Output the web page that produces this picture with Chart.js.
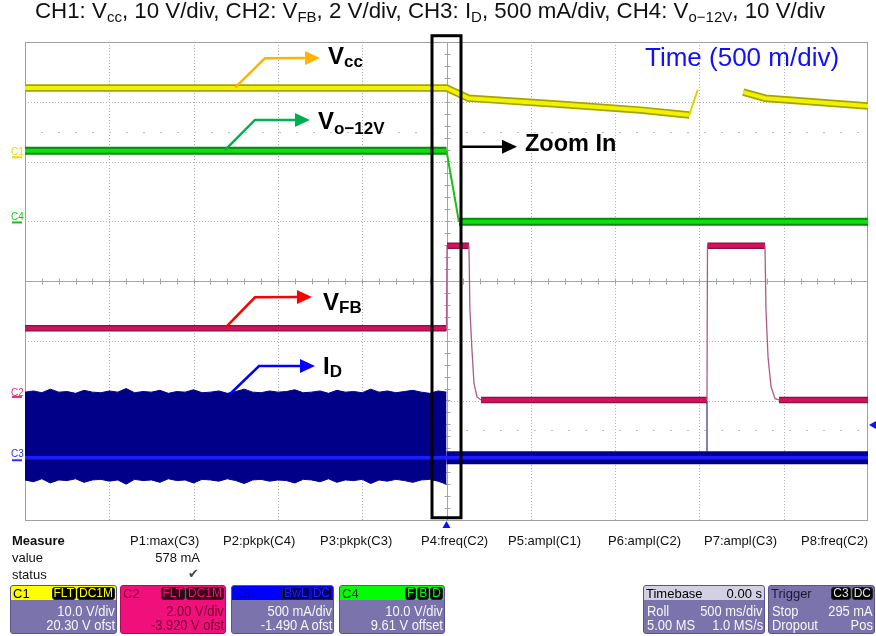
<!DOCTYPE html>
<html>
<head>
<meta charset="utf-8">
<script src="https://cdn.jsdelivr.net/npm/chart.js@4.4.1/dist/chart.umd.min.js"></script>
<style>
  body { margin: 0; background: #fff; font-family: "Liberation Sans", Arial, sans-serif; }
  #wrap { position: relative; width: 876px; height: 636px; overflow: hidden; }
  #scope { position: absolute; left: 0; top: 0; }
  .t { position: absolute; line-height: 1; white-space: nowrap; }
  .lbl { font-weight: bold; font-size: 24px; color: #000; }
  .lbl sub { font-size: 17px; vertical-align: -3px; line-height: 0; }
  #title { left: 35px; top: 0; font-size: 22.3px; color: #111; }
  #title sub { font-size: 15px; vertical-align: -4px; line-height: 0; }
  .m { font-size: 13px; color: #111; }
  .chn { font-size: 10px; }
  .ch { position: absolute; top: 585px; height: 49px; box-sizing: border-box; border: 1px solid #5a5488;
        border-radius: 3px; background: #7b73ab; overflow: hidden; }
  .hd { height: 14px; display: flex; align-items: center; font-size: 13px; padding-left: 2px; }
  .hd .nm { flex: 1; }
  .bd { background: #000; border-radius: 3px; padding: 0 1px; margin-right: 1px; font-size: 12px; line-height: 11px;
        border: 1px solid #222; }
  .row { position: absolute; right: 1px; font-size: 15px; line-height: 1; color: #f6f6f6;
         transform: scaleX(0.86); transform-origin: right center; white-space: nowrap; }
  .rowl { position: absolute; left: 3px; font-size: 15px; line-height: 1; color: #f6f6f6;
          transform: scaleX(0.86); transform-origin: left center; white-space: nowrap; }
</style>
</head>
<body>
<div id="wrap">
  <canvas id="scope" width="876" height="636"></canvas>

  <div id="title" class="t">CH1: V<sub>cc</sub>, 10 V/div, CH2: V<sub>FB</sub>, 2 V/div, CH3: I<sub>D</sub>, 500 mA/div, CH4: V<sub>o−12V</sub>, 10 V/div</div>
  <div class="t" style="left:645px;top:44px;font-size:26px;color:#1010ff;">Time (500 m/div)</div>
  <div class="t" style="left:525px;top:132px;font-size:23.5px;font-weight:bold;">Zoom In</div>

  <div class="t lbl" style="left:328px;top:44px;">V<sub>cc</sub></div>
  <div class="t lbl" style="left:318px;top:109px;">V<sub style="vertical-align:-5px;">o−12V</sub></div>
  <div class="t lbl" style="left:323px;top:290px;">V<sub>FB</sub></div>
  <div class="t lbl" style="left:323px;top:354px;">I<sub>D</sub></div>

  <div class="t chn" style="left:11px;top:147px;color:#e0e000;">C1</div>
  <div class="t chn" style="left:11px;top:212px;color:#10c810;">C4</div>
  <div class="t chn" style="left:11px;top:388px;color:#e0307c;">C2</div>
  <div class="t chn" style="left:11px;top:449px;color:#3030ff;">C3</div>

  <div class="t m" style="left:12px;top:534px;font-weight:bold;">Measure</div>
  <div class="t m" style="left:12px;top:551px;">value</div>
  <div class="t m" style="left:12px;top:568px;">status</div>
  <div class="t m" style="left:130px;top:534px;">P1:max(C3)</div>
  <div class="t m" style="left:223px;top:534px;">P2:pkpk(C4)</div>
  <div class="t m" style="left:320px;top:534px;">P3:pkpk(C3)</div>
  <div class="t m" style="left:421px;top:534px;">P4:freq(C2)</div>
  <div class="t m" style="left:508px;top:534px;">P5:ampl(C1)</div>
  <div class="t m" style="left:608px;top:534px;">P6:ampl(C2)</div>
  <div class="t m" style="left:704px;top:534px;">P7:ampl(C3)</div>
  <div class="t m" style="left:801px;top:534px;">P8:freq(C2)</div>
  <div class="t m" style="right:676px;top:551px;">578 mA</div>
  <div class="t m" style="left:188px;top:567px;color:#444;font-family:'DejaVu Sans',sans-serif;">✔</div>

  <div class="ch" style="left:10px;width:107px;">
    <div class="hd" style="background:#ffff00;color:#000;"><span class="nm">C1</span><span class="bd" style="color:#ffff00;">FLT</span><span class="bd" style="color:#ffff00;">DC1M</span></div>
    <div class="row" style="top:17px;">10.0 V/div</div>
    <div class="row" style="top:31px;">20.30 V ofst</div>
  </div>
  <div class="ch" style="left:120px;width:106px;background:#f0107c;border-color:#b00a5a;">
    <div class="hd" style="background:#f0107c;color:#9a0040;"><span class="nm">C2</span><span class="bd" style="color:#f0107c;background:#3a0018;">FLT</span><span class="bd" style="color:#f0107c;background:#3a0018;">DC1M</span></div>
    <div class="row" style="top:17px;color:#7a0030;">2.00 V/div</div>
    <div class="row" style="top:31px;color:#7a0030;">-3.920 V ofst</div>
  </div>
  <div class="ch" style="left:231px;width:103px;">
    <div class="hd" style="background:#0000ff;color:#000090;"><span class="nm">C3</span><span class="bd" style="color:#2020ff;background:#000060;">BwL</span><span class="bd" style="color:#2020ff;background:#000060;">DC</span></div>
    <div class="row" style="top:17px;">500 mA/div</div>
    <div class="row" style="top:31px;">-1.490 A ofst</div>
  </div>
  <div class="ch" style="left:339px;width:106px;">
    <div class="hd" style="background:#00ff00;color:#003000;"><span class="nm">C4</span><span class="bd" style="color:#00ff00;">F</span><span class="bd" style="color:#00ff00;">B</span><span class="bd" style="color:#00ff00;">D</span></div>
    <div class="row" style="top:17px;">10.0 V/div</div>
    <div class="row" style="top:31px;">9.61 V offset</div>
  </div>
  <div class="ch" style="left:643px;width:122px;">
    <div class="hd" style="background:#d4d0e4;color:#000;padding-right:2px;"><span class="nm">Timebase</span><span>0.00 s</span></div>
    <div class="rowl" style="top:17px;">Roll</div>
    <div class="row" style="top:17px;">500 ms/div</div>
    <div class="rowl" style="top:31px;">5.00 MS</div>
    <div class="row" style="top:31px;">1.0 MS/s</div>
  </div>
  <div class="ch" style="left:768px;width:107px;">
    <div class="hd" style="color:#1a1838;"><span class="nm">Trigger</span><span class="bd" style="color:#e0e0e0;">C3</span><span class="bd" style="color:#e0e0e0;">DC</span></div>
    <div class="rowl" style="top:17px;">Stop</div>
    <div class="row" style="top:17px;">295 mA</div>
    <div class="rowl" style="top:31px;">Dropout</div>
    <div class="row" style="top:31px;">Pos</div>
  </div>
</div>

<script>
// time in seconds (500 ms/div, trigger at 0), levels in screen divisions (+-4)
const vccT = [-2.5, 0.0, 0.13, 0.67, 1.15, 1.44, 1.49, 1.6, 1.76, 1.89, 2.5];
const vccV = [3.23, 3.23, 3.06, 2.96, 2.86, 2.78, 3.20, null, 3.16, 3.06, 2.93];

const voT = [-2.5, 0.0, 0.074, 2.5];
const voV = [2.18, 2.18, 0.99, 0.99];

const fbT = [-2.5, 0.0, 0.003, 0.133, 0.139, 0.151, 0.163, 0.181, 0.205, 1.545, 1.548, 1.889, 1.895, 1.907, 1.925, 1.949, 1.972, 2.5];
const fbV = [-0.79, -0.79, 0.59, 0.59, -0.49, -1.15, -1.71, -1.94, -1.99, -1.99, 0.59, 0.59, -0.49, -1.27, -1.77, -1.97, -1.99, -1.99];

// switching current envelope before the trigger
const idBandT = [-2.5, -2.45, -2.4, -2.35, -2.3, -2.25, -2.2, -2.15, -2.1, -2.05,
                 -2.0, -1.95, -1.9, -1.85, -1.8, -1.75, -1.7, -1.65, -1.6, -1.55,
                 -1.5, -1.45, -1.4, -1.35, -1.3, -1.25, -1.2, -1.15, -1.1, -1.05,
                 -1.0, -0.95, -0.9, -0.85, -0.8, -0.75, -0.7, -0.65, -0.6, -0.55,
                 -0.5, -0.45, -0.4, -0.35, -0.3, -0.25, -0.2, -0.15, -0.1, -0.05, 0.0];
const idTopV = [-1.86, -1.84, -1.87, -1.81, -1.86, -1.85, -1.88, -1.83, -1.86, -1.87,
                -1.84, -1.86, -1.80, -1.87, -1.85, -1.86, -1.83, -1.88, -1.85, -1.86,
                -1.82, -1.87, -1.86, -1.84, -1.88, -1.85, -1.81, -1.86, -1.87, -1.84,
                -1.86, -1.85, -1.82, -1.87, -1.86, -1.84, -1.88, -1.83, -1.86, -1.85,
                -1.87, -1.81, -1.86, -1.84, -1.87, -1.85, -1.83, -1.86, -1.88, -1.84, -1.86];
const idBotV = [-3.33, -3.36, -3.31, -3.38, -3.33, -3.34, -3.31, -3.37, -3.33, -3.32,
                -3.35, -3.33, -3.40, -3.32, -3.34, -3.33, -3.37, -3.31, -3.34, -3.33,
                -3.38, -3.32, -3.33, -3.35, -3.31, -3.34, -3.39, -3.33, -3.32, -3.35,
                -3.33, -3.34, -3.38, -3.32, -3.33, -3.36, -3.31, -3.37, -3.33, -3.34,
                -3.32, -3.39, -3.33, -3.35, -3.32, -3.34, -3.37, -3.33, -3.32, -3.35, -3.40];
const idMidT = [-2.5, 2.5];
const idMidV = [-2.96, -2.96];
const idPostT = [0.0, 2.5];
const idPostV = [-2.96, -2.96];
const idSpikeT = [1.545, 1.545];
const idSpikeV = [-2.85, -2.0];

const gridT = [-2.0, -1.5, -1.0, -0.5, 0.5, 1.0, 1.5, 2.0];
const gridV = [-3, -2, -1, 1, 2, 3];
const dotRowsV = [2.5, -2.5];

// channel offset markers: C1, C4, C2, C3
const chLevels = [2.07, 0.98, -1.94, -3.0];
const chColors = ['#e0e000', '#10c810', '#e0307c', '#3030ff'];

// callout arrows [t, div] : start, bend, tip
const vccArrow = [[-1.254, 3.235], [-1.077, 3.727], [-0.750, 3.732]];
const voArrow = [[-1.314, 2.192], [-1.136, 2.695], [-0.810, 2.695]];
const fbArrow = [[-1.308, -0.770], [-1.136, -0.273], [-0.798, -0.268]];
const idArrow = [[-1.284, -1.891], [-1.112, -1.423], [-0.780, -1.423]];
const zoomArrow = [[0.092, 2.248], [0.418, 2.248]];
const zoomBox = [-0.086, 0.086, 4.105, -3.962];

const pts = (ts, vs) => ts.map((t, i) => ({ x: t, y: vs[i] }));

const steep = (c, lim) => Math.abs(c.p1.parsed.x - c.p0.parsed.x) < lim;

function trace(ts, vs, color, width, lim, thinColor, thinWidth) {
  return {
    data: pts(ts, vs),
    borderColor: color,
    borderWidth: width,
    pointRadius: 0,
    fill: false,
    tension: 0,
    segment: {
      borderColor: c => steep(c, lim) ? thinColor : undefined,
      borderWidth: c => steep(c, lim) ? thinWidth : undefined
    }
  };
}

function drawArrow(ctx, x, y, list, color, lw) {
  const p = list.map(q => [x.getPixelForValue(q[0]), y.getPixelForValue(q[1])]);
  const n = p.length;
  const [tx, ty] = p[n - 1];
  const [sx, sy] = p[n - 2];
  const ang = Math.atan2(ty - sy, tx - sx);
  const head = 15, half = 7;
  const bx = tx - head * Math.cos(ang), by = ty - head * Math.sin(ang);
  ctx.strokeStyle = color;
  ctx.fillStyle = color;
  ctx.lineWidth = lw;
  ctx.beginPath();
  ctx.moveTo(p[0][0], p[0][1]);
  for (let i = 1; i < n - 1; i++) ctx.lineTo(p[i][0], p[i][1]);
  ctx.lineTo(bx, by);
  ctx.stroke();
  ctx.beginPath();
  ctx.moveTo(tx, ty);
  ctx.lineTo(bx + half * Math.sin(ang), by - half * Math.cos(ang));
  ctx.lineTo(bx - half * Math.sin(ang), by + half * Math.cos(ang));
  ctx.closePath();
  ctx.fill();
}

const scopeDecor = {
  id: 'scopeDecor',
  beforeDatasetsDraw(chart) {
    const { ctx, chartArea: a, scales: { x, y } } = chart;
    ctx.save();
    ctx.strokeStyle = '#b0b0b0';
    ctx.lineWidth = 1;
    ctx.setLineDash([1, 2]);
    gridT.forEach(t => {
      const px = Math.round(x.getPixelForValue(t)) + 0.5;
      ctx.beginPath(); ctx.moveTo(px, a.top); ctx.lineTo(px, a.bottom); ctx.stroke();
    });
    gridV.forEach(v => {
      const py = Math.round(y.getPixelForValue(v)) + 0.5;
      ctx.beginPath(); ctx.moveTo(a.left, py); ctx.lineTo(a.right, py); ctx.stroke();
    });
    ctx.strokeStyle = '#c0c0c0';
    ctx.setLineDash([2, 15]);
    dotRowsV.forEach(v => {
      const py = Math.round(y.getPixelForValue(v)) + 0.5;
      ctx.beginPath(); ctx.moveTo(a.left + 16, py); ctx.lineTo(a.right, py); ctx.stroke();
    });
    ctx.setLineDash([]);
    ctx.strokeStyle = '#a4a4a4';
    const cx = Math.round(x.getPixelForValue(0)) + 0.5;
    const cy = Math.round(y.getPixelForValue(0)) + 0.5;
    ctx.beginPath();
    ctx.moveTo(cx, a.top); ctx.lineTo(cx, a.bottom);
    ctx.moveTo(a.left, cy); ctx.lineTo(a.right, cy);
    for (let t = -2.4; t < 2.45; t += 0.1) {
      const px = Math.round(x.getPixelForValue(t)) + 0.5;
      ctx.moveTo(px, cy - 3); ctx.lineTo(px, cy + 3);
    }
    for (let v = -3.8; v < 3.85; v += 0.2) {
      const py = Math.round(y.getPixelForValue(v)) + 0.5;
      ctx.moveTo(cx - 3, py); ctx.lineTo(cx + 3, py);
    }
    ctx.stroke();
    ctx.strokeStyle = '#a0a0a0';
    ctx.strokeRect(a.left + 0.5, a.top + 0.5, a.right - a.left - 1, a.bottom - a.top);
    ctx.restore();
  },
  afterDatasetsDraw(chart) {
    const { ctx, chartArea: a, scales: { x, y } } = chart;
    ctx.save();
    // channel offset markers on the left edge
    chLevels.forEach((v, i) => {
      const py = y.getPixelForValue(v);
      ctx.fillStyle = chColors[i];
      ctx.fillRect(a.left - 13, py - 1, 10, 2);
    });
    drawArrow(ctx, x, y, vccArrow, '#ffb400', 2.5);
    drawArrow(ctx, x, y, voArrow, '#00b050', 2.5);
    drawArrow(ctx, x, y, fbArrow, '#ff0000', 2.5);
    drawArrow(ctx, x, y, idArrow, '#0000ff', 2.5);
    drawArrow(ctx, x, y, zoomArrow, '#000000', 2.5);
    // zoom window
    const [t0, t1, v0, v1] = zoomBox;
    ctx.strokeStyle = '#000';
    ctx.lineWidth = 3;
    ctx.strokeRect(x.getPixelForValue(t0), y.getPixelForValue(v0),
      x.getPixelForValue(t1) - x.getPixelForValue(t0), y.getPixelForValue(v1) - y.getPixelForValue(v0));
    // trigger position and level markers
    ctx.fillStyle = '#1010ff';
    const tx = x.getPixelForValue(0);
    ctx.beginPath();
    ctx.moveTo(tx, a.bottom + 1); ctx.lineTo(tx - 4, a.bottom + 8); ctx.lineTo(tx + 4, a.bottom + 8);
    ctx.closePath(); ctx.fill();
    const ly = y.getPixelForValue(-2.41);
    ctx.beginPath();
    ctx.moveTo(a.right + 1, ly); ctx.lineTo(a.right + 8, ly - 4); ctx.lineTo(a.right + 8, ly + 4);
    ctx.closePath(); ctx.fill();
    ctx.restore();
  }
};

new Chart(document.getElementById('scope'), {
  type: 'line',
  data: {
    datasets: [
      trace(vccT, vccV, '#f2f200', 4, 0.06, '#d8d800', 2),
      trace(vccT, vccV, '#a4a400', 7.5, 0.06, 'rgba(0,0,0,0)', 1),
      trace(voT, voV, '#12dc12', 4, 0.08, '#18c018', 2),
      trace(voT, voV, '#0a8a0a', 8, 0.08, 'rgba(0,0,0,0)', 1),
      trace(fbT, fbV, '#d2105c', 4, 0.03, '#b05a84', 1.3),
      trace(fbT, fbV, '#8c1040', 6.5, 0.03, 'rgba(0,0,0,0)', 1),
      trace(idSpikeT, idSpikeV, '#40408a', 1.3, 0, '#40408a', 1.3),
      trace(idMidT, idMidV, '#1c1cff', 3.5, 0, '#1c1cff', 3.5),
      trace(idPostT, idPostV, '#00008c', 13, 0, '#00008c', 13),
      Object.assign(trace(idBandT, idTopV, '#000088', 1, 0, '#000088', 1),
        { fill: '+1', backgroundColor: '#000088' }),
      trace(idBandT, idBotV, '#000088', 1, 0, '#000088', 1)
    ]
  },
  options: {
    responsive: false,
    animation: false,
    layout: { padding: { left: 25, right: 8, top: 42, bottom: 116 } },
    plugins: { legend: { display: false }, tooltip: { enabled: false } },
    scales: {
      x: { type: 'linear', min: -2.5, max: 2.5, display: false },
      y: { type: 'linear', min: -4, max: 4, display: false }
    }
  },
  plugins: [scopeDecor]
});
</script>
</body>
</html>
